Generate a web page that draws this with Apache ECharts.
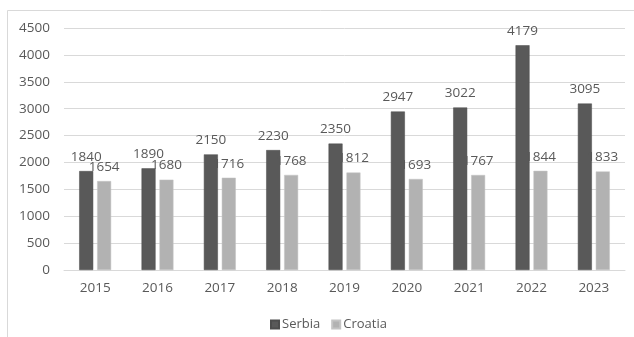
<!DOCTYPE html>
<html>
<head>
<meta charset="utf-8">
<script src="https://cdn.jsdelivr.net/npm/echarts@6/dist/echarts.min.js"></script>
<style>html,body{margin:0;padding:0;background:#fff;}#c{width:634px;height:337px;}</style>
</head>
<body>
<div id="c"></div>
<script>
const categories = ['2015','2016','2017','2018','2019','2020','2021','2022','2023'];
const serbia = [1840, 1890, 2150, 2230, 2350, 2947, 3022, 4179, 3095];
const croatia = [1654, 1680, 1716, 1768, 1812, 1693, 1767, 1844, 1833];
const yTicks = [0, 500, 1000, 1500, 2000, 2500, 3000, 3500, 4000, 4500];

const FONT = 'Open Sans';
const TXT = '#595959';
const chart = echarts.init(document.getElementById('c'), null, {renderer: 'canvas'});
chart.setOption({
  animation: false,
  backgroundColor: '#ffffff',
  graphic: [
    {type: 'line', shape: {x1: 7.5, y1: 10.5, x2: 634, y2: 10.5}, style: {stroke: '#d9d9d9', lineWidth: 1}, silent: true},
    {type: 'line', shape: {x1: 7.5, y1: 10.5, x2: 7.5, y2: 337}, style: {stroke: '#d9d9d9', lineWidth: 1}, silent: true}
  ],
  grid: {left: 64, right: 9, top: 28, bottom: 67, containLabel: false},
  legend: {
    data: ['Serbia', 'Croatia'],
    left: 265, top: 313,
    itemWidth: 8, itemHeight: 8, itemGap: 11,
    icon: 'rect',
    textStyle: {color: TXT, fontFamily: FONT, fontSize: 13, padding: [0, 0, 0, -2]}
  },
  xAxis: {
    type: 'category',
    data: categories,
    axisLine: {lineStyle: {color: '#d9d9d9', width: 1}},
    axisTick: {show: false},
    axisLabel: {color: TXT, fontFamily: FONT, fontSize: 13.5, margin: 11}
  },
  yAxis: {
    type: 'value',
    min: yTicks[0], max: yTicks[yTicks.length - 1], interval: 500,
    axisLine: {show: false},
    axisTick: {show: false},
    splitLine: {lineStyle: {color: '#d9d9d9', width: 1}},
    axisLabel: {color: TXT, fontFamily: FONT, fontSize: 13.5, margin: 14, formatter: function (v) { return String(v); }}
  },
  series: [
    {
      name: 'Serbia', type: 'bar', data: serbia, z: 2,
      barWidth: 14, barGap: '28%', barCategoryGap: '48%',
      itemStyle: {color: '#595959', borderColor: '#4d4d4d', borderWidth: 0.5},
      label: {show: true, position: 'top', distance: 7, color: TXT, fontFamily: FONT, fontSize: 13.5}
    },
    {
      name: 'Croatia', type: 'bar', data: croatia, z: 3,
      barWidth: 14,
      itemStyle: {color: '#b2b2b2', borderColor: '#c4c4c4', borderWidth: 0.5},
      label: {show: true, position: 'top', distance: 7, color: TXT, fontFamily: FONT, fontSize: 13.5}
    }
  ]
});
</script>
</body>
</html>
